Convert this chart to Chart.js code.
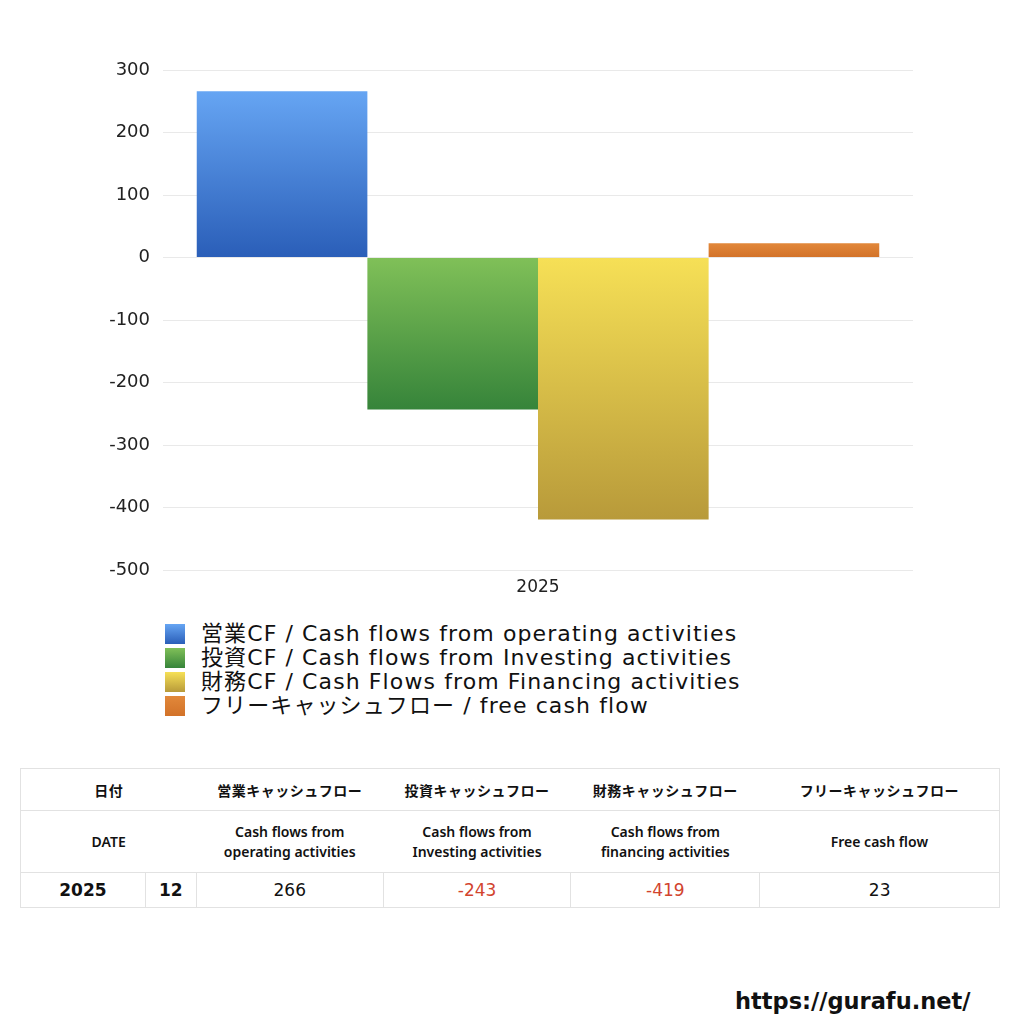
<!DOCTYPE html>
<html>
<head>
<meta charset="utf-8">
<script src="https://cdn.jsdelivr.net/npm/chart.js@4/dist/chart.umd.min.js"></script>
<style>
  body { margin: 0; background: #fff; font-family: "DejaVu Sans", "Noto Sans CJK JP", sans-serif; color: #111; }
  #wrap { position: relative; width: 1024px; height: 1024px; }
  #chartBox { position: absolute; left: 0; top: 0; width: 1024px; height: 600px; }
  #legend { position: absolute; left: 165px; top: 622px; font-size: 22px; line-height: 24px; letter-spacing: 1.1px; font-family: "DejaVu Sans", "Noto Sans CJK JP", sans-serif; }
  #legend div { display: flex; align-items: center; white-space: nowrap; height: 24px; }
  #legend span.sw { display: inline-block; width: 20px; height: 20px; margin-right: 16px; }
  table { position: absolute; left: 20px; top: 768px; width: 980px; border-collapse: collapse; }
  td { text-align: center; padding: 0; border-top: 1px solid #e2e2e2; border-bottom: 1px solid #e2e2e2; }
  tr.h1 td { height: 41px; font-size: 14px; font-weight: bold; letter-spacing: 0.5px; font-family: "Noto Sans CJK JP", sans-serif; }
  tr.h2 td { height: 61px; font-size: 14px; font-weight: 600; line-height: 20px; font-family: "Noto Sans", "Noto Sans CJK JP", sans-serif; }
  tr.dat td { height: 34px; font-size: 17px; border-left: 1px solid #e2e2e2; border-right: 1px solid #e2e2e2; }
  tr.h1 td:first-child, tr.h2 td:first-child { border-left: 1px solid #e2e2e2; }
  tr.h1 td:last-child, tr.h2 td:last-child { border-right: 1px solid #e2e2e2; }
  td.b { font-weight: bold; }
  td.neg { color: #d2442e; }
  #url { position: absolute; left: 735px; top: 988px; font-size: 22.5px; font-weight: bold; font-family: "DejaVu Sans", sans-serif; }
</style>
</head>
<body>
<div id="wrap">
  <div id="chartBox"><canvas id="c"></canvas></div>
  <div id="legend"></div>
  <table id="tbl"></table>
  <div id="url">https://gurafu.net/</div>
</div>
<script>
const categories = ['2025'];
const seriesNames = [
  '営業CF / Cash flows from operating activities',
  '投資CF / Cash flows from Investing activities',
  '財務CF / Cash Flows from Financing activities',
  'フリーキャッシュフロー / free cash flow'
];
const operatingCF = [266];
const investingCF = [-243];
const financingCF = [-419];
const freeCF = [23];
const yTicks = [300, 200, 100, 0, -100, -200, -300, -400, -500];

const colTopJa = ['日付', '営業キャッシュフロー', '投資キャッシュフロー', '財務キャッシュフロー', 'フリーキャッシュフロー'];
const colTopEn = ['DATE', 'Cash flows from<br>operating activities', 'Cash flows from<br>Investing activities', 'Cash flows from<br>financing activities', 'Free cash flow'];
const rowYear = '2025';
const rowMonth = '12';

// gradient stops [top, bottom]
const grads = [
  ['#66a5f3', '#2a5eb8'],
  ['#80c058', '#36843a'],
  ['#f6e056', '#b89a3a'],
  ['#e2883a', '#d27229']
];

const values = [operatingCF, investingCF, financingCF, freeCF];

function barGrad(i) {
  return function (c) {
    const chart = c.chart;
    const ys = chart.scales && chart.scales.y;
    if (!chart.chartArea || !ys) return grads[i][1];
    const v = values[i][c.dataIndex];
    const p1 = ys.getPixelForValue(v), p0 = ys.getPixelForValue(0);
    if (!isFinite(p1) || !isFinite(p0) || p1 === p0) return grads[i][1];
    const g = chart.ctx.createLinearGradient(0, Math.min(p0, p1), 0, Math.max(p0, p1));
    g.addColorStop(0, grads[i][0]);
    g.addColorStop(1, grads[i][1]);
    return g;
  };
}

new Chart(document.getElementById('c'), {
  type: 'bar',
  data: {
    labels: categories,
    datasets: values.map((v, i) => ({
      label: seriesNames[i],
      data: v,
      backgroundColor: barGrad(i),
      borderWidth: 0
    }))
  },
  options: {
    responsive: true,
    maintainAspectRatio: false,
    animation: false,
    categoryPercentage: 0.91,
    barPercentage: 1,
    layout: { padding: { left: 0, right: 111, top: 70, bottom: 0 } },
    plugins: { legend: { display: false }, tooltip: { enabled: false } },
    scales: {
      x: {
        grid: { display: false, drawTicks: false },
        border: { display: false },
        ticks: { color: '#222', font: { family: 'DejaVu Sans', size: 17 }, padding: 7 },
        afterFit: s => { s.height = 30; }
      },
      y: {
        min: -500,
        max: 300,
        grid: { color: '#e9e9e9', drawTicks: false },
        border: { display: false },
        afterBuildTicks: s => { s.ticks = yTicks.map(v => ({ value: v })); },
        ticks: { color: '#222', font: { family: 'DejaVu Sans', size: 18 }, padding: 13 },
        afterFit: s => { s.width = 163; }
      }
    }
  }
});

// legend
const lg = document.getElementById('legend');
seriesNames.forEach((n, i) => {
  const d = document.createElement('div');
  d.innerHTML = '<span class="sw" style="background:linear-gradient(' + grads[i][0] + ',' + grads[i][1] + ')"></span>' + n;
  lg.appendChild(d);
});

// table
const fmt = v => '<td class="' + (v < 0 ? 'neg' : '') + '">' + v + '</td>';
const tbl = document.getElementById('tbl');
tbl.innerHTML =
  '<colgroup><col style="width:125px"><col style="width:51px"><col style="width:187px"><col style="width:188px"><col style="width:189px"><col style="width:240px"></colgroup>' +
  '<tr class="h1"><td colspan="2">' + colTopJa[0] + '</td>' + colTopJa.slice(1).map(t => '<td>' + t + '</td>').join('') + '</tr>' +
  '<tr class="h2"><td colspan="2">' + colTopEn[0] + '</td>' + colTopEn.slice(1).map(t => '<td>' + t + '</td>').join('') + '</tr>' +
  '<tr class="dat"><td class="b">' + rowYear + '</td><td class="b">' + rowMonth + '</td>' +
  fmt(operatingCF[0]) + fmt(investingCF[0]) + fmt(financingCF[0]) + fmt(freeCF[0]) + '</tr>';
</script>
</body>
</html>
